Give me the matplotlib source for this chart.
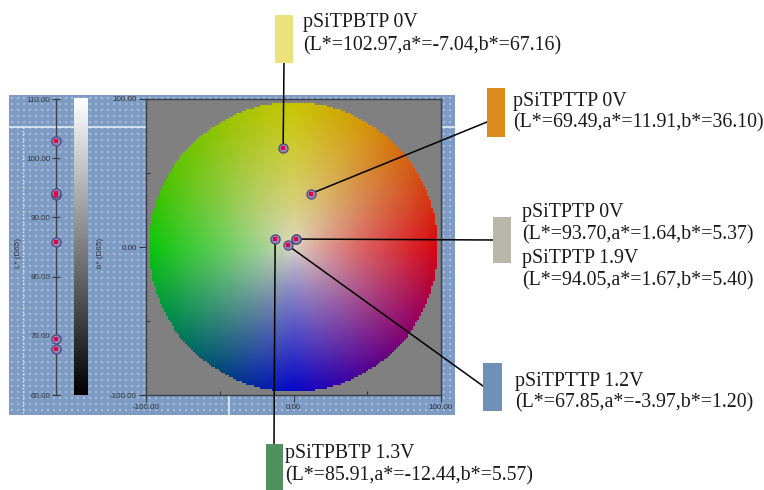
import numpy as np
import matplotlib
matplotlib.use('Agg')
import matplotlib.pyplot as plt
from matplotlib.patches import Rectangle

# ---------------- data ----------------
samples = ['pSiTPBTP 0V', 'pSiTPTTP 0V', 'pSiTPTP 0V', 'pSiTPTP 1.9V', 'pSiTPTTP 1.2V', 'pSiTPBTP 1.3V']
L_vals = [102.97, 69.49, 93.70, 94.05, 67.85, 85.91]
a_vals = [-7.04, 11.91, 1.64, 1.67, -3.97, -12.44]
b_vals = [67.16, 36.10, 5.37, 5.40, 1.20, 5.57]
L_ticks = [60, 70, 80, 90, 100, 110]
ab_ticks = [-100, 0, 100]
ab_minor = [-50, 50]

W, H = 764, 490
fig = plt.figure(figsize=(W / 100, H / 100), dpi=100)
fig.patch.set_facecolor('white')


def rect(x0, y0, x1, y1):
    return [x0 / W, 1 - y1 / H, (x1 - x0) / W, (y1 - y0) / H]


tick_col = '#30343c'
tick_font = dict(family='Liberation Sans', size=5.8)

# ---------------- background panel ----------------
bg = fig.add_axes([0, 0, 1, 1], zorder=0)
bg.axis('off')
bg.add_patch(Rectangle((9, 95), 446, 320, color='#7d9bc3', lw=0, zorder=0.5))
xs, ys = np.meshgrid(np.arange(12, 455, 6), np.arange(98, 414, 6))
bg.scatter(xs.ravel(), ys.ravel(), s=0.7, marker='s', c='#a6bedb', lw=0, zorder=1)
bg.plot([9, 455], [127, 127], color='#e6edf6', lw=1.2, zorder=2)
bg.plot([23, 23], [127, 415], color='#e6edf6', lw=1, ls=(0, (1, 1.5)), zorder=2)
bg.plot([229, 229], [395, 415], color='#e6edf6', lw=1.2, zorder=2)
grad = np.linspace(1, 0, 256)[:, None]
bg.imshow(grad, cmap='gray', vmin=0, vmax=1, extent=(74, 88, 395, 99),
          aspect='auto', interpolation='bilinear', zorder=3)
bg.text(18, 253, 'L* (D65)', rotation=90, ha='center', va='center', color=tick_col, zorder=4, **tick_font)
bg.text(100, 253, 'b* (D65)', rotation=90, ha='center', va='center', color=tick_col, zorder=4, **tick_font)
bg.set_xlim(0, W)
bg.set_ylim(H, 0)

# ---------------- L* axis ----------------
lax = fig.add_axes(rect(56, 99, 66, 395), zorder=1)
lax.patch.set_alpha(0)
lax.set_ylim(60, 110)
lax.set_xlim(0, 1)
for s in ['top', 'right', 'bottom']:
    lax.spines[s].set_visible(False)
lax.spines['left'].set_color('#3a3f4a')
lax.spines['left'].set_linewidth(0.9)
lax.set_xticks([])
lax.set_yticks(L_ticks)
lax.set_yticklabels([f'{v:.2f}' for v in L_ticks], fontfamily='Liberation Sans')
lax.tick_params(axis='y', direction='inout', length=6, width=0.8, labelsize=5.8, pad=1, colors=tick_col)
lax.scatter([0] * len(L_vals), L_vals, s=44, marker='o', fc='#8f86b8', ec='#4a4272', lw=0.8, clip_on=False, zorder=3)
lax.scatter([0] * len(L_vals), L_vals, s=9, marker='s', c='#e0004a', lw=0, clip_on=False, zorder=4)

# ---------------- a*b* plane ----------------
ax = fig.add_axes(rect(146, 99, 441, 395), zorder=2)
ax.set_facecolor('#808080')
n = 150
g = np.linspace(-100, 100, n)
A, B = np.meshgrid(g, g)
R = np.hypot(A, B)
ang = np.degrees(np.arctan2(B, A)) % 360
anchor_ang = [0, 30, 60, 90, 120, 150, 180, 210, 240, 270, 300, 330, 360]
anchor_rgb = np.array([
    (215, 5, 15), (212, 80, 20), (212, 150, 5), (202, 198, 0), (150, 195, 0),
    (85, 195, 0), (10, 198, 10), (0, 140, 75), (0, 70, 125), (5, 5, 200),
    (80, 0, 150), (150, 0, 95), (215, 5, 15)]) / 255.0
edge = np.stack([np.interp(ang, anchor_ang, anchor_rgb[:, k]) for k in range(3)], axis=-1)
center = np.array([222, 216, 200]) / 255.0
t = np.clip(R / 98.5, 0, 1) ** 0.8
img = center * (1 - t[..., None]) + edge * t[..., None]
alpha = (R <= 98.5).astype(float)
rgba = np.dstack([img, alpha])
ax.imshow(rgba, extent=(-100, 100, -100, 100), origin='lower', interpolation='nearest', zorder=1)
ax.set_aspect('auto')
ax.set_xlim(-100, 100)
ax.set_ylim(-100, 100)
ax.set_xticks(ab_ticks)
ax.set_xticklabels([f'{v:.2f}' for v in ab_ticks], fontfamily='Liberation Sans')
ax.set_yticks(ab_ticks)
ax.set_yticklabels([f'{v:.2f}' for v in ab_ticks], fontfamily='Liberation Sans')
ax.set_xticks(ab_minor, minor=True)
ax.set_yticks(ab_minor, minor=True)
ax.tick_params(which='major', direction='out', length=5, width=0.8, labelsize=5.8, pad=1.5, colors=tick_col)
ax.tick_params(which='minor', direction='in', length=3, width=0.8, colors=tick_col)
for s in ax.spines.values():
    s.set_color('#3a3f4a')
    s.set_linewidth(1.0)
ax.scatter(a_vals, b_vals, s=44, marker='o', fc='#8f86b8', ec='#4a4272', lw=0.8, zorder=4)
ax.scatter(a_vals, b_vals, s=9, marker='s', c='#e0004a', lw=0, zorder=5)

# ---------------- annotations ----------------
ov = fig.add_axes([0, 0, 1, 1], zorder=5)
ov.axis('off')
ov.set_xlim(0, W)
ov.set_ylim(H, 0)

groups = [
    ([0], (275, 15, 293, 63), '#ebe17d', 303, [22, 46], (284, 63)),
    ([1], (487, 88, 505, 137), '#dc8c1e', 513, [101, 123], (487, 122)),
    ([2, 3], (493, 217, 511, 263), '#b9b6ac', 522, [212, 235, 258, 281], (493, 240)),
    ([4], (483, 363, 502, 411), '#6e91b9', 515, [381, 403], (483, 386)),
    ([5], (266, 444, 283, 490), '#50915f', 285, [453, 476], (274, 444)),
]
to_ov = ov.transData.inverted()
for idx, (x0, y0, x1, y1), col, tx, tys, end in groups:
    i0 = idx[0]
    p = to_ov.transform(ax.transData.transform((a_vals[i0], b_vals[i0])))
    ax.plot([p[0], end[0]], [p[1], end[1]], color='black', lw=1.1,
            transform=ov.transData, clip_on=False, zorder=3)
    ov.add_patch(Rectangle((x0, y0), x1 - x0, y1 - y0, color=col, lw=0))
    lines = []
    for i in idx:
        lines.append(samples[i])
        lines.append(f'(L*={L_vals[i]:.2f},a*={a_vals[i]:.2f},b*={b_vals[i]:.2f})')
    for s, ty in zip(lines, tys):
        ov.text(tx, ty, s, ha='left', va='center', fontsize=14.3,
                family='Liberation Serif', color='#1a1a1a')

fig.savefig('out.png', dpi=100)
